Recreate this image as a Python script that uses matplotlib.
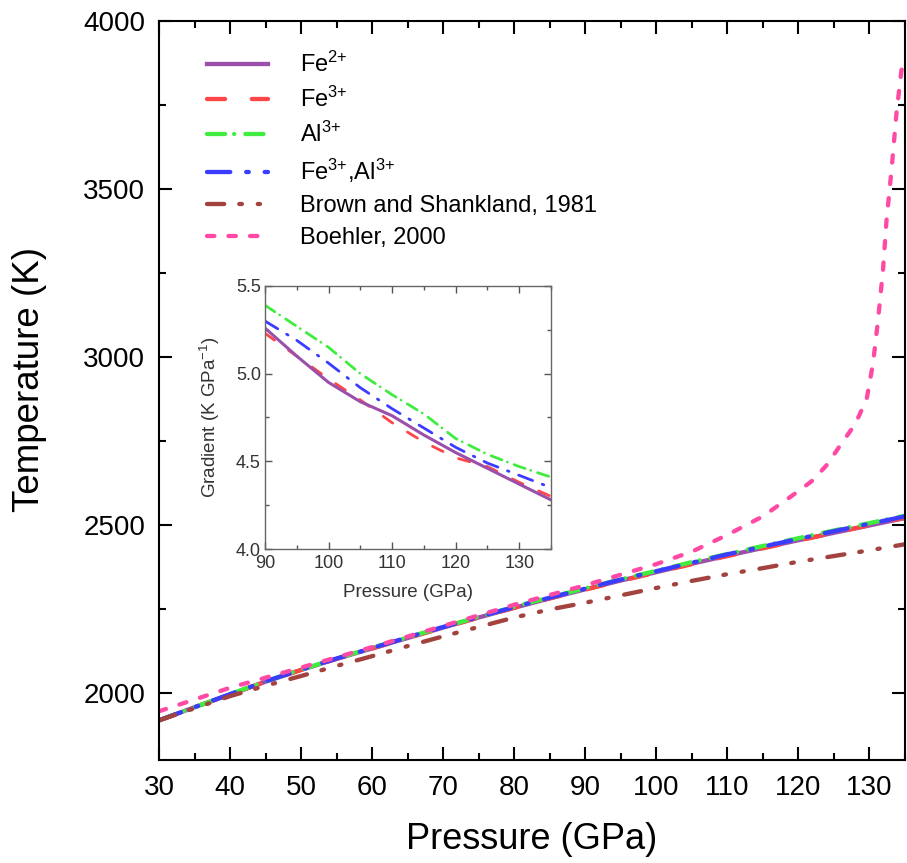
import numpy as np
import matplotlib
matplotlib.use('Agg')
import matplotlib.pyplot as plt
from matplotlib.ticker import MultipleLocator, FormatStrFormatter

plt.rcParams['font.family'] = ['Liberation Sans', 'DejaVu Sans']
plt.rcParams['mathtext.default'] = 'regular'

# ── Основной график: T(P) ──
P = [30, 35, 40, 45, 50, 55, 60, 65, 70, 75, 80, 85, 90, 95, 100,
     105, 110, 115, 120, 125, 130, 135]
T_fe2 = [1918, 1957, 1995, 2033, 2068, 2101, 2132, 2163, 2194, 2224, 2253,
         2281, 2308, 2334, 2359, 2384, 2408, 2431, 2454, 2476, 2498, 2520]
T_fe3 = [1918, 1957, 1995, 2033, 2068, 2101, 2132, 2163, 2194, 2224, 2253,
         2281, 2307, 2333, 2358, 2383, 2407, 2430, 2453, 2476, 2499, 2521]
T_al3 = [1918, 1957, 1996, 2034, 2069, 2102, 2134, 2165, 2196, 2226, 2256,
         2284, 2311, 2338, 2363, 2389, 2413, 2437, 2460, 2483, 2505, 2527]
T_feal = [1918, 1957, 1996, 2034, 2069, 2102, 2133, 2165, 2196, 2226, 2255,
          2283, 2310, 2337, 2362, 2387, 2412, 2435, 2458, 2481, 2503, 2525]
T_brown = [1918, 1954, 1990, 2021, 2050, 2080, 2109, 2139, 2168, 2196, 2224,
           2248, 2268, 2290, 2312, 2333, 2353, 2371, 2390, 2407, 2424, 2442]

P_boehler = [30, 40, 50, 60, 70, 80, 90, 100, 105, 110, 115, 120, 122, 124,
             126, 128, 129.6, 130.5, 131.2, 131.9, 132.4, 133.1, 133.8, 134.5, 135]
T_boehler = [1945, 2015, 2075, 2136, 2199, 2262, 2320, 2383, 2420, 2470, 2525,
             2600, 2632, 2678, 2740, 2800, 2874, 2980, 3108, 3257, 3406, 3555,
             3725, 3853, 3870]

# ── Вставка: градиент ──
P_in = [90, 95, 100, 105, 110, 115, 120, 125, 130, 135]
G_fe2 = [5.26, 5.10, 4.95, 4.84, 4.76, 4.65, 4.55, 4.46, 4.37, 4.28]
G_fe3 = [5.23, 5.10, 4.97, 4.85, 4.72, 4.61, 4.52, 4.47, 4.38, 4.30]
G_al3 = [5.39, 5.27, 5.15, 5.00, 4.88, 4.77, 4.63, 4.54, 4.47, 4.41]
G_feal = [5.30, 5.19, 5.06, 4.92, 4.80, 4.69, 4.58, 4.49, 4.42, 4.35]

C_FE2 = '#9b4fab'
C_FE3 = '#ff4646'
C_AL3 = '#3fec3f'
C_FEAL = '#3a3cff'
C_BROWN = '#a3433f'
C_PINK = '#ff4aa5'

DASH_FE3 = (4.2, 6.2)
DASH_AL3 = (4.2, 2.1, 0.01, 2.6)
DASH_FEAL = (5.4, 3.7, 0.6, 3.7)
DASH_BROWN = (4.0, 3.5, 0.6, 3.7, 0.5, 3.7)
DASH_PINK = (1.7, 3.3)

fig = plt.figure(figsize=(9.07, 8.63), dpi=100)
ax = fig.add_axes([159 / 907, 1 - 760 / 863, 746 / 907, 739.3 / 863])

lw = 3.1
kw = dict(lw=lw, dash_capstyle='round', solid_capstyle='round')
ax.plot(P, T_fe2, color=C_FE2, label='Fe$^{2{+}}$', lw=lw)
ax.plot(P, T_fe3, color=C_FE3, dashes=DASH_FE3, label='Fe$^{3{+}}$', **kw)
ax.plot(P, T_al3, color=C_AL3, dashes=DASH_AL3, label='Al$^{3{+}}$', **kw)
ax.plot(P, T_feal, color=C_FEAL, dashes=DASH_FEAL,
        label='Fe$^{3{+}}$,Al$^{3{+}}$', **kw)
ax.plot(P, T_brown, color=C_BROWN, dashes=DASH_BROWN,
        label='Brown and Shankland, 1981', **kw)
ax.plot(P_boehler, T_boehler, color=C_PINK, dashes=DASH_PINK,
        label='Boehler, 2000', **kw)

ax.set_xlim(30, 135)
ax.set_ylim(1800, 4000)
ax.xaxis.set_major_locator(MultipleLocator(10))
ax.xaxis.set_minor_locator(MultipleLocator(5))
ax.yaxis.set_major_locator(MultipleLocator(500))
ax.yaxis.set_minor_locator(MultipleLocator(250))
ax.tick_params(which='both', direction='in', top=True, right=True, width=1.5,
               labelsize=20)
ax.tick_params(which='major', length=9.5)
ax.tick_params(which='minor', length=5)
ax.tick_params(axis='x', pad=11)
ax.tick_params(axis='y', pad=10)
for s in ax.spines.values():
    s.set_linewidth(1.5)
ax.set_xlabel('Pressure (GPa)', fontsize=26, labelpad=15)
ax.set_ylabel('Temperature (K)', fontsize=26.5)
ax.yaxis.set_label_coords(-0.150, 0.514)

ax.legend(loc='upper left', bbox_to_anchor=(0.064, 0.958), frameon=False,
          fontsize=17, handlelength=2.6, handletextpad=1.35, labelspacing=0.42,
          borderpad=0, borderaxespad=0)

# ── Вставка ──
axi = fig.add_axes([265 / 907, 1 - 549 / 863, 286 / 907, 263 / 863])
ilw = 2.0
ikw = dict(lw=ilw, dash_capstyle='round')
axi.plot(P_in, G_fe3, color=C_FE3, dashes=DASH_FE3, **ikw)
axi.plot(P_in, G_al3, color=C_AL3, dashes=DASH_AL3, **ikw)
axi.plot(P_in, G_feal, color=C_FEAL, dashes=DASH_FEAL, **ikw)
axi.plot(P_in, G_fe2, color=C_FE2, lw=2.2)
axi.set_xlim(90, 135)
axi.set_ylim(4.0, 5.5)
axi.xaxis.set_major_locator(MultipleLocator(10))
axi.xaxis.set_minor_locator(MultipleLocator(5))
axi.yaxis.set_major_locator(MultipleLocator(0.5))
axi.yaxis.set_minor_locator(MultipleLocator(0.25))
axi.yaxis.set_major_formatter(FormatStrFormatter('%.1f'))
axi.tick_params(which='both', direction='in', top=True, right=True, width=1,
                color='#555555', labelcolor='#333333', labelsize=13)
axi.tick_params(axis='x', pad=4)
axi.tick_params(axis='y', pad=3)
axi.tick_params(which='major', length=5)
axi.tick_params(which='minor', length=3)
for s in axi.spines.values():
    s.set_color('#666666')
    s.set_linewidth(1)
axi.set_xlabel('Pressure (GPa)', fontsize=13.5, color='#333333', labelpad=9)
axi.set_ylabel('Gradient (K GPa$^{-1}$)', fontsize=13.5, color='#333333',
               labelpad=10)

fig.savefig('out.png', dpi=100)
